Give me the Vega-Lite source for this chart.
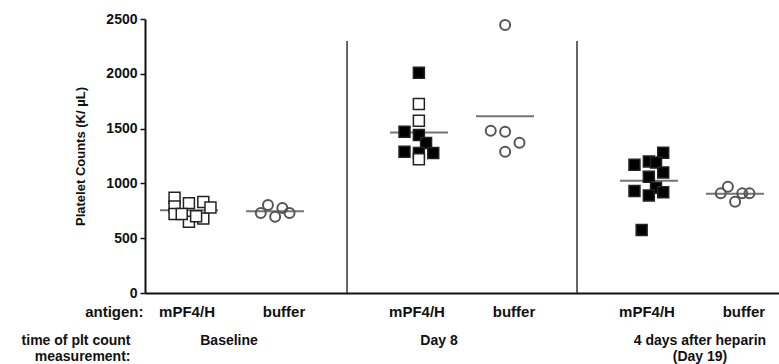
{
  "$schema": "https://vega.github.io/schema/vega-lite/v6.json",
  "width": 634,
  "height": 274,
  "autosize": "none",
  "padding": {"left": 145, "top": 19, "right": 0, "bottom": 71},
  "config": {
    "view": {"stroke": null},
    "font": "Liberation Sans Narrow, Liberation Sans, Arial, sans-serif",
    "axis": {"labelFontWeight": "bold", "titleFontWeight": "bold", "labelColor": "#111", "titleColor": "#111", "domainColor": "#111", "tickColor": "#111", "grid": false}
  },
  "datasets": {
    "pts": [
      {"period": "Baseline", "antigen": "mPF4/H", "group": "open", "col": -2, "count": 870},
      {"period": "Baseline", "antigen": "mPF4/H", "group": "open", "col": -2, "count": 790},
      {"period": "Baseline", "antigen": "mPF4/H", "group": "open", "col": -2, "count": 720},
      {"period": "Baseline", "antigen": "mPF4/H", "group": "open", "col": 0, "count": 820},
      {"period": "Baseline", "antigen": "mPF4/H", "group": "open", "col": 0, "count": 650},
      {"period": "Baseline", "antigen": "mPF4/H", "group": "open", "col": -1, "count": 720},
      {"period": "Baseline", "antigen": "mPF4/H", "group": "open", "col": 2, "count": 830},
      {"period": "Baseline", "antigen": "mPF4/H", "group": "open", "col": 2, "count": 680},
      {"period": "Baseline", "antigen": "mPF4/H", "group": "open", "col": 3, "count": 780},
      {"period": "Baseline", "antigen": "mPF4/H", "group": "open", "col": 1, "count": 700},
      {"period": "Baseline", "antigen": "buffer", "group": "open", "col": -1, "count": 803},
      {"period": "Baseline", "antigen": "buffer", "group": "open", "col": -2, "count": 730},
      {"period": "Baseline", "antigen": "buffer", "group": "open", "col": 0, "count": 696},
      {"period": "Baseline", "antigen": "buffer", "group": "open", "col": 1, "count": 776},
      {"period": "Baseline", "antigen": "buffer", "group": "open", "col": 2, "count": 730},
      {"period": "Day 8", "antigen": "mPF4/H", "group": "filled", "col": 0, "count": 2010},
      {"period": "Day 8", "antigen": "mPF4/H", "group": "filled", "col": -2, "count": 1472},
      {"period": "Day 8", "antigen": "mPF4/H", "group": "filled", "col": 0, "count": 1442},
      {"period": "Day 8", "antigen": "mPF4/H", "group": "filled", "col": 1, "count": 1369},
      {"period": "Day 8", "antigen": "mPF4/H", "group": "filled", "col": -2, "count": 1289},
      {"period": "Day 8", "antigen": "mPF4/H", "group": "filled", "col": 0, "count": 1277},
      {"period": "Day 8", "antigen": "mPF4/H", "group": "filled", "col": 2, "count": 1277},
      {"period": "Day 8", "antigen": "mPF4/H", "group": "open", "col": 0, "count": 1724},
      {"period": "Day 8", "antigen": "mPF4/H", "group": "open", "col": 0, "count": 1572},
      {"period": "Day 8", "antigen": "mPF4/H", "group": "open", "col": 0, "count": 1220},
      {"period": "Day 8", "antigen": "buffer", "group": "open", "col": 0, "count": 2445},
      {"period": "Day 8", "antigen": "buffer", "group": "open", "col": -2, "count": 1481},
      {"period": "Day 8", "antigen": "buffer", "group": "open", "col": 0, "count": 1472},
      {"period": "Day 8", "antigen": "buffer", "group": "open", "col": 2, "count": 1371},
      {"period": "Day 8", "antigen": "buffer", "group": "open", "col": 0, "count": 1289},
      {"period": "Day 19", "antigen": "mPF4/H", "group": "filled", "col": 2, "count": 1280},
      {"period": "Day 19", "antigen": "mPF4/H", "group": "filled", "col": 0, "count": 1200},
      {"period": "Day 19", "antigen": "mPF4/H", "group": "filled", "col": 1, "count": 1190},
      {"period": "Day 19", "antigen": "mPF4/H", "group": "filled", "col": -2, "count": 1170},
      {"period": "Day 19", "antigen": "mPF4/H", "group": "filled", "col": 2, "count": 1100},
      {"period": "Day 19", "antigen": "mPF4/H", "group": "filled", "col": 0, "count": 1060},
      {"period": "Day 19", "antigen": "mPF4/H", "group": "filled", "col": -2, "count": 930},
      {"period": "Day 19", "antigen": "mPF4/H", "group": "filled", "col": 1, "count": 960},
      {"period": "Day 19", "antigen": "mPF4/H", "group": "filled", "col": 0, "count": 890},
      {"period": "Day 19", "antigen": "mPF4/H", "group": "filled", "col": 2, "count": 920},
      {"period": "Day 19", "antigen": "mPF4/H", "group": "filled", "col": -1, "count": 575},
      {"period": "Day 19", "antigen": "buffer", "group": "open", "col": -2, "count": 909},
      {"period": "Day 19", "antigen": "buffer", "group": "open", "col": -1, "count": 970},
      {"period": "Day 19", "antigen": "buffer", "group": "open", "col": 0, "count": 833},
      {"period": "Day 19", "antigen": "buffer", "group": "open", "col": 1, "count": 909},
      {"period": "Day 19", "antigen": "buffer", "group": "open", "col": 2, "count": 909}
    ]
  },
  "data": {"name": "pts"},
  "resolve": {"scale": {"x": "independent", "xOffset": "independent"}, "axis": {"x": "independent"}},
  "layer": [
    {
      "data": {"values": [{"period": "Baseline"}, {"period": "Day 8"}]},
      "mark": {"type": "rule", "xOffset": 115, "strokeWidth": 1.5, "color": "#333"},
      "encoding": {
        "x": {"field": "period", "type": "nominal", "sort": null,
          "scale": {"domain": ["Baseline", "Day 8", "Day 19"], "paddingInner": 0.5, "paddingOuter": 0.1285},
          "axis": {"orient": "bottom", "title": ["time of plt count", "measurement:"],
            "labelExpr": "datum.value == 'Day 19' ? ['4 days after heparin', '(Day 19)'] : datum.value",
            "labelAngle": 0, "ticks": false, "domain": true, "domainWidth": 2, "labelPadding": 40, "labelFontSize": 14, "labelLineHeight": 16,
            "labelOffset": {"condition": [{"test": "datum.value == 'Day 8'", "value": -23}, {"test": "datum.value == 'Day 19'", "value": 8}], "value": -3},
            "titleX": -15, "titleY": 40, "titleAlign": "right", "titleBaseline": "top", "titleAngle": 0, "titleFontSize": 14, "titleLineHeight": 16}
        },
        "y": {"datum": 2300, "type": "quantitative"},
        "y2": {"datum": 0}
      }
    },
    {
      "transform": [{"filter": "datum.antigen == 'mPF4/H'"}, {"aggregate": [{"op": "mean", "field": "count", "as": "count"}], "groupby": ["period"]}],
      "mark": {"type": "tick", "xOffset": -43, "size": 58, "thickness": 2, "color": "#3a3a3a"},
      "encoding": {
        "x": {"field": "period", "type": "nominal", "sort": null,
          "scale": {"domain": ["Baseline", "Day 8", "Day 19"], "paddingInner": 0.5, "paddingOuter": 0.1285}, "axis": null},
        "y": {"field": "count", "type": "quantitative"}
      }
    },
    {
      "transform": [{"filter": "datum.antigen == 'buffer'"}, {"aggregate": [{"op": "mean", "field": "count", "as": "count"}], "groupby": ["period"]}],
      "mark": {"type": "tick", "xOffset": 43, "size": 58, "thickness": 2, "color": "#3a3a3a"},
      "encoding": {
        "x": {"field": "period", "type": "nominal", "sort": null,
          "scale": {"domain": ["Baseline", "Day 8", "Day 19"], "paddingInner": 0.5, "paddingOuter": 0.1285}, "axis": null},
        "y": {"field": "count", "type": "quantitative"}
      }
    },
    {
      "transform": [{"filter": "datum.antigen == 'mPF4/H'"}],
      "mark": {"type": "point", "shape": "square", "filled": true, "size": 120, "stroke": "#222", "strokeWidth": 1.5, "opacity": 1},
      "encoding": {
        "x": {"field": "period", "type": "nominal", "sort": null,
          "scale": {"domain": ["Baseline", "Day 8", "Day 19"], "paddingInner": 0.5, "paddingOuter": 0.1285},
          "axis": {"orient": "bottom", "labelExpr": "'mPF4/H'", "labelOffset": -45, "labelAngle": 0, "ticks": false, "domain": false, "labelPadding": 11, "labelFontSize": 15,
            "title": "antigen:", "titleX": -2, "titleY": 11, "titleAlign": "right", "titleBaseline": "top", "titleAngle": 0, "titleFontSize": 15}},
        "xOffset": {"field": "col", "type": "quantitative", "scale": {"domain": [-2, 14]}},
        "y": {"field": "count", "type": "quantitative", "scale": {"domain": [0, 2500], "nice": false},
          "axis": {"title": "Platelet Counts (K/ µL)", "format": "d", "values": [0, 500, 1000, 1500, 2000, 2500], "tickSize": 5, "tickWidth": 1.5, "domainWidth": 2, "labelFontSize": 14, "titleFontSize": 13, "titlePadding": 18, "labelPadding": 3}},
        "fill": {"field": "group", "type": "nominal", "scale": {"domain": ["open", "filled"], "range": ["#ffffff", "#000000"]}, "legend": null}
      }
    },
    {
      "transform": [{"filter": "datum.antigen == 'buffer'"}],
      "mark": {"type": "point", "shape": "circle", "filled": false, "size": 100, "stroke": "#555", "strokeWidth": 2, "opacity": 1},
      "encoding": {
        "x": {"field": "period", "type": "nominal", "sort": null,
          "scale": {"domain": ["Baseline", "Day 8", "Day 19"], "paddingInner": 0.5, "paddingOuter": 0.1285},
          "axis": {"orient": "bottom", "labelExpr": "'buffer'", "labelOffset": 52, "labelAngle": 0, "ticks": false, "domain": false, "labelPadding": 11, "labelFontSize": 15, "title": null}},
        "xOffset": {"field": "col", "type": "quantitative", "scale": {"domain": [-14, 2]}},
        "y": {"field": "count", "type": "quantitative"}
      }
    }
  ]
}
